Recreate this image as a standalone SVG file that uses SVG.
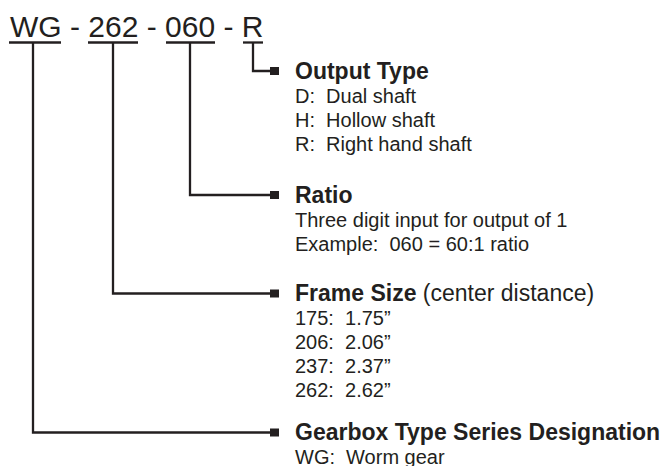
<svg xmlns="http://www.w3.org/2000/svg" width="664" height="466" viewBox="0 0 664 466">
<style>
text{font-family:"Liberation Sans",Arial,Helvetica,sans-serif;fill:#231f20}
.title{font-size:30px}
.h{font-size:23px;font-weight:bold}
.b{font-size:20px}
.ln{stroke:#231f20;stroke-width:2.3;fill:none}
.sq{fill:#231f20}
</style>
<rect width="664" height="466" fill="#ffffff"/>
<g id="title">
<text class="title" x="10" y="37" xml:space="preserve">WG - 262 - 060 - R</text>
<line class="ln" x1="9" y1="42.5" x2="61" y2="42.5"/>
<line class="ln" x1="88" y1="42.5" x2="138" y2="42.5"/>
<line class="ln" x1="166" y1="42.5" x2="215" y2="42.5"/>
<line class="ln" x1="243" y1="42.5" x2="263" y2="42.5"/>
</g>
<g id="connectors">
<polyline class="ln" points="253,42.5 253,71 272,71"/>
<rect class="sq" x="270" y="67" width="9" height="8"/>
<polyline class="ln" points="190,42.5 190,195 272,195"/>
<rect class="sq" x="270" y="191" width="9" height="8"/>
<polyline class="ln" points="113,42.5 113,293.5 272,293.5"/>
<rect class="sq" x="270" y="289.5" width="9" height="8"/>
<polyline class="ln" points="33,42.5 33,432.5 272,432.5"/>
<rect class="sq" x="270" y="428.5" width="9" height="8"/>
</g>
<g id="output-type">
<text class="h" x="295" y="79">Output Type</text>
<text class="b" x="295" y="103" xml:space="preserve">D:  Dual shaft</text>
<text class="b" x="295" y="127" xml:space="preserve">H:  Hollow shaft</text>
<text class="b" x="295" y="151" xml:space="preserve">R:  Right hand shaft</text>
</g>
<g id="ratio">
<text class="h" x="295" y="203">Ratio</text>
<text class="b" x="295" y="227">Three digit input for output of 1</text>
<text class="b" x="295" y="251" xml:space="preserve">Example:  060 = 60:1 ratio</text>
</g>
<g id="frame-size">
<text class="h" x="295" y="301">Frame Size<tspan style="font-weight:normal"> (center distance)</tspan></text>
<text class="b" x="295" y="325" xml:space="preserve">175:  1.75”</text>
<text class="b" x="295" y="349" xml:space="preserve">206:  2.06”</text>
<text class="b" x="295" y="373" xml:space="preserve">237:  2.37”</text>
<text class="b" x="295" y="397" xml:space="preserve">262:  2.62”</text>
</g>
<g id="gearbox-type">
<text class="h" x="295" y="440">Gearbox Type Series Designation</text>
<text class="b" x="295" y="464" xml:space="preserve">WG:  Worm gear</text>
</g>
</svg>
